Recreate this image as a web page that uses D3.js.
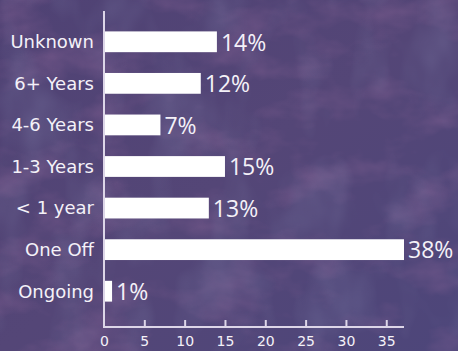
<!DOCTYPE html>
<html><head><meta charset="utf-8">
<script src="https://cdn.jsdelivr.net/npm/d3@7"></script>
<style>html,body{margin:0;padding:0;background:#514476;}svg{display:block;}</style>
</head><body>
<script>
const categories = ["Unknown","6+ Years","4-6 Years","1-3 Years","< 1 year","One Off","Ongoing"];
const values = [14,12,7,15,13,38,1];
const valueLabels = ["14%","12%","7%","15%","13%","38%","1%"];
const ticks = [0,5,10,15,20,25,30,35];

const W = 458, H = 351;
const svg = d3.select("body").append("svg").attr("width",W).attr("height",H);
const defs = svg.append("defs");
const lg = defs.append("linearGradient").attr("id","bg").attr("x1","0").attr("y1","0").attr("x2","1").attr("y2","1");
lg.append("stop").attr("offset","0").attr("stop-color","#4f4274");
lg.append("stop").attr("offset","0.5").attr("stop-color","#544677");
lg.append("stop").attr("offset","1").attr("stop-color","#4d467a");
const f = defs.append("filter").attr("id","tex").attr("x",0).attr("y",0).attr("width","100%").attr("height","100%");
f.append("feTurbulence").attr("type","fractalNoise").attr("baseFrequency","0.015 0.025").attr("numOctaves",4).attr("seed",11).attr("result","n");
f.append("feColorMatrix").attr("in","n").attr("type","matrix")
  .attr("values","0 0 0 0 0.45  0 0 0 0 0.2  0 0 0 0 0.42  1.8 0 0 0 -0.85");
const f2 = defs.append("filter").attr("id","tex2").attr("x",0).attr("y",0).attr("width","100%").attr("height","100%");
f2.append("feTurbulence").attr("type","fractalNoise").attr("baseFrequency","0.02 0.012").attr("numOctaves",3).attr("seed",3).attr("result","n");
f2.append("feColorMatrix").attr("in","n").attr("type","matrix")
  .attr("values","0 0 0 0 0.28  0 0 0 0 0.3  0 0 0 0 0.5  1.8 0 0 0 -0.85");
svg.append("rect").attr("width",W).attr("height",H).attr("fill","url(#bg)");
svg.append("rect").attr("width",W).attr("height",H).attr("filter","url(#tex)").attr("opacity",0.35);
svg.append("rect").attr("width",W).attr("height",H).attr("filter","url(#tex2)").attr("opacity",0.3);

const x = d3.scaleLinear().domain([0,37.2]).range([104,404]).clamp(true);
const y = d3.scaleBand().domain(categories).range([21,312]).paddingInner(0.5).paddingOuter(0.25);

const fg = "#f4f1f8";
svg.selectAll("rect.bar").data(categories).enter().append("rect").attr("class","bar")
  .attr("x",x(0)).attr("y",d=>y(d)).attr("height",y.bandwidth())
  .attr("width",(d,i)=>x(values[i])-x(0)).attr("fill","#ffffff");

const xAxis = d3.axisBottom(x).tickValues(ticks).tickSizeInner(-7).tickSizeOuter(0).tickPadding(9);
const gx = svg.append("g").attr("transform","translate(0,327)").call(xAxis);
gx.select(".domain").remove();
gx.append("line").attr("x1",103).attr("x2",404).attr("y1",0).attr("y2",0).attr("stroke","#ddd6e8").attr("stroke-width",2);
gx.selectAll(".tick line").attr("stroke","#ddd6e8").attr("stroke-width",2);
gx.selectAll(".tick").filter(d=>d===0).select("line").remove();
gx.selectAll(".tick text").attr("fill",fg).attr("font-family","DejaVu Sans").attr("font-size","14px");

svg.append("line").attr("x1",104).attr("x2",104).attr("y1",11).attr("y2",328).attr("stroke","#ddd6e8").attr("stroke-width",2);

svg.selectAll("text.cat").data(categories).enter().append("text").attr("class","cat")
  .attr("x",94).attr("y",d=>y(d)+y.bandwidth()/2).attr("dy","0.35em")
  .attr("text-anchor","end").attr("fill",fg).attr("font-family","DejaVu Sans").attr("font-size","18px")
  .text(d=>d);

svg.selectAll("text.val").data(categories).enter().append("text").attr("class","val")
  .attr("x",(d,i)=>x(values[i])+4).attr("y",d=>y(d)+y.bandwidth()/2).attr("dy","0.38em")
  .attr("fill",fg).attr("font-family","Open Sans").attr("font-size","23px")
  .text((d,i)=>valueLabels[i]);
</script>
</body></html>
